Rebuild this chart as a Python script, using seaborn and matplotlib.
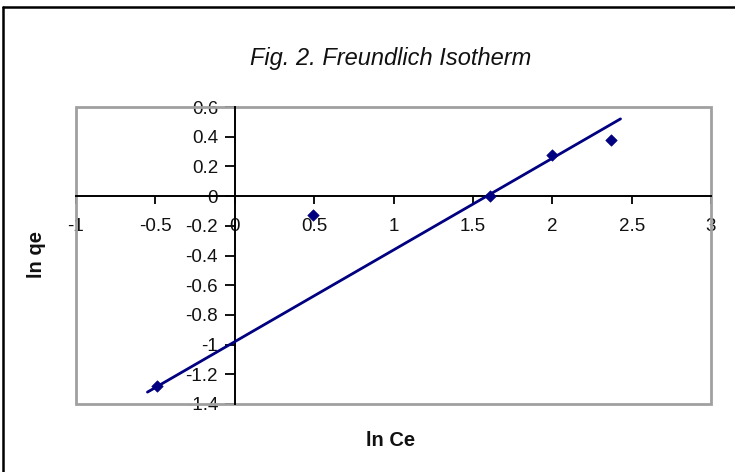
import numpy as np
import pandas as pd
import seaborn as sns
import matplotlib.pyplot as plt
from matplotlib.patches import Rectangle
from matplotlib.lines import Line2D
from matplotlib.ticker import FuncFormatter

# points
ln_ce = [-0.49, 0.49, 1.61, 2.00, 2.37]
ln_qe = [-1.28, -0.13, 0.00, 0.28, 0.38]

# trendline ends as drawn
trend_x = [-0.55, 2.43]
trend_y = [-1.32, 0.52]

x_ticks = [-1, -0.5, 0, 0.5, 1, 1.5, 2, 2.5, 3]
y_ticks = [-1.4, -1.2, -1, -0.8, -0.6, -0.4, -0.2, 0, 0.2, 0.4, 0.6]

sns.set_style('ticks')
plt.rcParams['font.family'] = ['Liberation Sans', 'DejaVu Sans']
plt.rcParams['axes.unicode_minus'] = False

navy = '#000080'

fig = plt.figure(figsize=(7.35, 4.72), dpi=100)
ax = fig.add_axes([76 / 735, 1 - 404 / 472, (711 - 76) / 735, (404 - 107) / 472])

pts = pd.DataFrame({'x': ln_ce, 'y': ln_qe})
trend = pd.DataFrame({'x': trend_x, 'y': trend_y})
sns.lineplot(data=trend, x='x', y='y', color=navy, lw=2, ax=ax, zorder=3)
sns.scatterplot(data=pts, x='x', y='y', marker='D', s=34, color=navy,
                edgecolor=navy, ax=ax, zorder=4)

ax.set_xlim(-1, 3)
ax.set_ylim(-1.4, 0.6)
ax.set_xticks(x_ticks)
ax.set_yticks(y_ticks)
fmt = FuncFormatter(lambda v, p: '%g' % round(v, 2))
ax.xaxis.set_major_formatter(fmt)
ax.yaxis.set_major_formatter(fmt)
ax.set_xlabel('')
ax.set_ylabel('')

for s in ['top', 'right']:
    ax.spines[s].set_visible(False)
ax.spines['left'].set_position(('data', 0))
ax.spines['bottom'].set_position(('data', 0))
for s in ['left', 'bottom']:
    ax.spines[s].set_color('black')
    ax.spines[s].set_linewidth(1.4)
    ax.spines[s].set_zorder(2)

ax.tick_params(axis='x', direction='out', length=6, width=1.4, pad=10,
               labelsize=13.5, colors='#111111')
ax.tick_params(axis='y', direction='out', length=7, width=1.4, pad=5,
               labelsize=13.5, colors='#111111')

# grey plot-area frame
ax.add_patch(Rectangle((0, 0), 1, 1, transform=ax.transAxes, fill=False,
                       edgecolor='#a0a0a0', lw=2, clip_on=False, zorder=1))

fig.text(391 / 735, 1 - 58 / 472, 'Fig. 2. Freundlich Isotherm', fontsize=17,
         style='italic', ha='center', va='center', color='#111111')
fig.text(391 / 735, 1 - 441 / 472, 'ln Ce', fontsize=14.5, fontweight='bold',
         ha='center', va='center', color='#111111')
fig.text(37 / 735, 1 - 255 / 472, 'ln qe', fontsize=14.5, fontweight='bold',
         rotation=90, ha='center', va='center', color='#111111')

# outer chart border (top and left visible)
fig.add_artist(Line2D([3 / 735, 1.0], [1 - 7 / 472, 1 - 7 / 472],
                      transform=fig.transFigure, color='black', lw=1.8))
fig.add_artist(Line2D([3 / 735, 3 / 735], [0.0, 1 - 7 / 472],
                      transform=fig.transFigure, color='black', lw=1.8))

fig.savefig('out.png', dpi=100)
